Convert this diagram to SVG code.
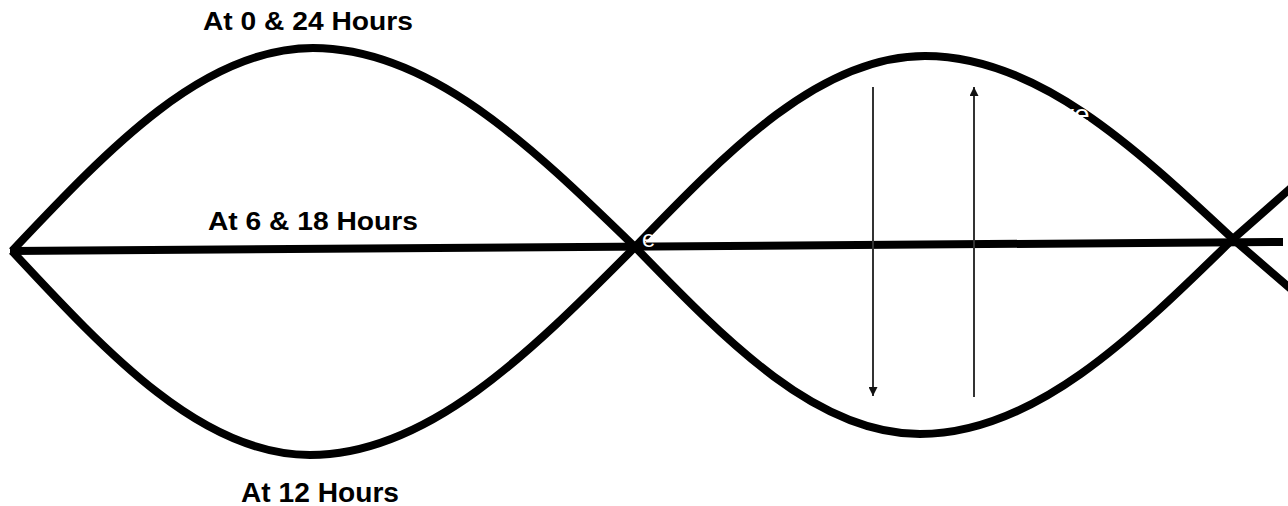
<svg xmlns="http://www.w3.org/2000/svg" width="1288" height="506" viewBox="0 0 1288 506">
<style>
.wave{fill:none;stroke:#000;stroke-width:8;stroke-linejoin:miter}
.axis{fill:none;stroke:#000;stroke-width:8}
.arr{fill:none;stroke:#333;stroke-width:2}
.lbl{font-family:"Liberation Sans",Arial,sans-serif;font-weight:bold;fill:#000;text-anchor:middle}
.wt{font-family:"Liberation Sans",Arial,sans-serif;fill:#fff}
</style>
<defs>
<marker id="ah" viewBox="0 0 10 10" refX="10" refY="5" markerWidth="9" markerHeight="9" markerUnits="userSpaceOnUse" orient="auto">
<path d="M0,0 L10,5 L0,10 Z" fill="#111"/>
</marker>
</defs>
<g id="connectors">
<path id="axis" class="axis" d="M10,251 L1283,242"/>
<path id="wave-left-upper" class="wave" d="M12,251 C110.2,147 204.2,48 313,48 C429.4,48 530,145 635,247"/>
<path id="wave-left-lower" class="wave" d="M12,251 C109.2,355.5 202.3,455 310,455 C427.5,455 529,353.6 635,247"/>
<path id="wave-right-upper" class="wave" d="M635,247 C729.6,149.2 820.2,56 925,56 C1036.3,56 1132.6,145.3 1233,239 L1292,290"/>
<path id="wave-right-lower" class="wave" d="M635,247 C727.9,342.8 817,434 920,434 C1033.1,434 1131,338.9 1233,239 L1292,187"/>
<line id="arrow-down" class="arr" x1="873" y1="87" x2="873" y2="396" marker-end="url(#ah)"/>
<line id="arrow-up" class="arr" x1="974" y1="397" x2="974" y2="87" marker-end="url(#ah)"/>
</g>
<g id="label-top"><text class="lbl" x="308" y="30" font-size="25" textLength="210" lengthAdjust="spacingAndGlyphs">At 0 &amp; 24 Hours</text></g>
<g id="label-mid"><text class="lbl" x="313" y="230" font-size="25" textLength="210" lengthAdjust="spacingAndGlyphs">At 6 &amp; 18 Hours</text></g>
<g id="label-bottom"><text class="lbl" x="320" y="502" font-size="28" textLength="158" lengthAdjust="spacingAndGlyphs">At 12 Hours</text></g>
<g id="hidden-text">
<text class="wt" x="1060" y="124" font-size="28">ve</text>
<text class="wt" x="642" y="247" font-size="24">e</text>
</g>
</svg>
